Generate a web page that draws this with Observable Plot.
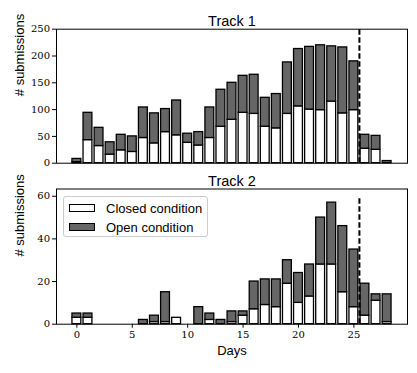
<!DOCTYPE html>
<html><head><meta charset="utf-8">
<script src="https://cdn.jsdelivr.net/npm/d3@7"></script>
<script src="https://cdn.jsdelivr.net/npm/@observablehq/plot@0.6"></script>
<style>
body{margin:0;background:#fff;}
#fig{position:relative;width:417px;height:373px;font-family:"Liberation Sans",Arial,sans-serif;}
#fig .panel{position:absolute;left:0;}
#fig svg{overflow:visible;}
#legend{position:absolute;left:63px;top:196px;width:145px;height:41px;border:1px solid #ccc;border-radius:3px;background:rgba(255,255,255,0.85);box-sizing:border-box;}
#legend .row{position:absolute;left:5px;height:10px;display:flex;align-items:center;font-size:13px;color:#000;white-space:nowrap;}
#legend .sw{width:26px;height:8px;border:1px solid #000;box-sizing:border-box;margin-right:11px;}
</style></head><body><div id="fig"></div>
<script>
const days = [0,1,2,3,4,5,6,7,8,9,10,11,12,13,14,15,16,17,18,19,20,21,22,23,24,25,26,27,28];
const track1Closed = [2,43,32,16,24,21,47,37,58,52,38,33,47,68,81,94,92,68,65,92,106,100,99,115,93,99,27,25,0];
const track1Open   = [6,51,34,23,29,29,57,56,43,65,17,25,57,69,69,69,73,54,64,96,107,117,121,103,123,91,26,26,4];
const track2Closed = [3,3,0,0,0,0,0,1,1,3,0,0,2,0,1,4,7,9,8,19,10,13,28,28,15,8,4,11,1];
const track2Open   = [2,2,0,0,0,0,2,3,14,0,0,8,3,2,5,2,13,12,13,11,14,15,22,29,31,27,15,3,13];
const cutoffDay = 25.5;
const track1YTicks = [0,50,100,150,200,250];
const track2YTicks = [0,20,40,60];
const xTicks = [0,5,10,15,20,25];
const titles = ["Track 1","Track 2"];
const legendLabels = ["Closed condition","Open condition"];
const colors = {closed:"#ffffff", open:"#666666"};

const fig = document.getElementById("fig");
const serif = "'DejaVu Serif', serif";

function panel({closed, open, yDomain, yTicks, title, cutTop, height, marginTop, marginBottom, showX}) {
  const rows = days.map((d,i)=>({day:d, closed:closed[i], total:closed[i]+open[i]}));
  const marks = [
    Plot.rect(rows,{x1:d=>d.day-0.4, x2:d=>d.day+0.4, y1:0, y2:"closed", fill:colors.closed, stroke:"black", strokeWidth:1.3}),
    Plot.rect(rows,{x1:d=>d.day-0.4, x2:d=>d.day+0.4, y1:"closed", y2:"total", fill:colors.open, stroke:"black", strokeWidth:1.3}),
    Plot.ruleX([cutoffDay],{y1:0, y2:cutTop, stroke:"black", strokeWidth:2, strokeDasharray:"5.5,2.5"}),
    Plot.frame({stroke:"black", strokeWidth:1}),
    Plot.axisY(yTicks,{tickSize:4, tickPadding:2.5, fontFamily:serif, fontSize:10, label:null, color:"black"}),
    Plot.text([title],{frameAnchor:"top", dy:-13.5, fontSize:14.5, fill:"black"}),
    Plot.text(["# submissions"],{frameAnchor:"left", dx:-37, rotate:-90, fontSize:13, fill:"black"})
  ];
  if (showX) {
    marks.push(Plot.axisX(xTicks,{tickSize:4, tickPadding:3, fontFamily:serif, fontSize:10, label:null, color:"black"}));
    marks.push(Plot.text(["Days"],{frameAnchor:"bottom", dy:31, fontSize:13, fill:"black"}));
  }
  return Plot.plot({
    width:417, height, marginLeft:56, marginRight:10, marginTop, marginBottom,
    style:{fontFamily:"'Liberation Sans', Arial, sans-serif", background:"white"},
    x:{type:"linear", domain:[-1.84,29.84], axis:null},
    y:{domain:yDomain, axis:null},
    marks
  });
}

const p1 = panel({closed:track1Closed, open:track1Open, yDomain:[0,250], yTicks:track1YTicks, title:titles[0], cutTop:250, height:170, marginTop:28.7, marginBottom:7.3, showX:false});
const d1 = document.createElement("div"); d1.className="panel"; d1.style.top="0px"; d1.appendChild(p1); fig.appendChild(d1);

const p2 = panel({closed:track2Closed, open:track2Open, yDomain:[0,63.4], yTicks:track2YTicks, title:titles[1], cutTop:60, height:203, marginTop:18.5, marginBottom:49.3, showX:true});
const d2 = document.createElement("div"); d2.className="panel"; d2.style.top="170px"; d2.appendChild(p2); fig.appendChild(d2);

const leg = document.createElement("div"); leg.id="legend";
legendLabels.forEach((lab,i)=>{
  const r = document.createElement("div"); r.className="row"; r.style.top=(6+i*19)+"px";
  const sw = document.createElement("div"); sw.className="sw"; sw.style.background = i===0?colors.closed:colors.open;
  const t = document.createElement("span"); t.textContent = lab;
  r.appendChild(sw); r.appendChild(t); leg.appendChild(r);
});
fig.appendChild(leg);
</script></body></html>
